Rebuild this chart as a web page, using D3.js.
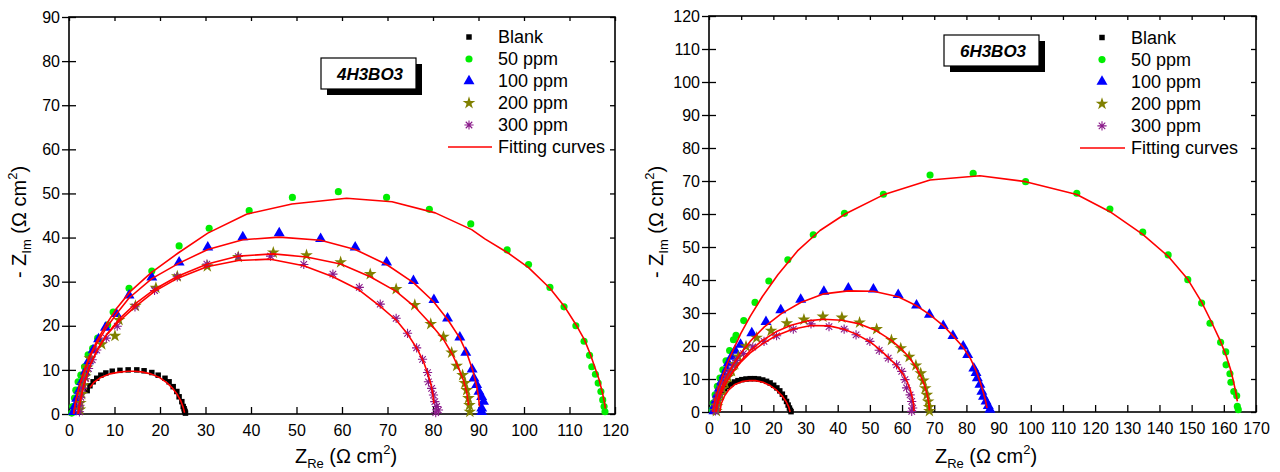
<!DOCTYPE html>
<html>
<head>
<meta charset="utf-8">
<script src="https://cdn.jsdelivr.net/npm/d3@7"></script>
<style>
  body { margin: 0; background: #fff; }
  svg text { font-family: "Liberation Sans", Arial, Helvetica, sans-serif; fill: #000; }
</style>
</head>
<body>
<svg id="chart" width="1280" height="472"></svg>
<script>
// ---------- labels ----------
const seriesNames = ["Blank", "50 ppm", "100 ppm", "200 ppm", "300 ppm"];
const fitName = "Fitting curves";
const panelTitles = ["4H3BO3", "6H3BO3"];

// ---------- tick values ----------
const xTicks4 = [0, 10, 20, 30, 40, 50, 60, 70, 80, 90, 100, 110, 120];
const yTicks4 = [0, 10, 20, 30, 40, 50, 60, 70, 80, 90];
const xTicks6 = [0, 10, 20, 30, 40, 50, 60, 70, 80, 90, 100, 110, 120, 130, 140, 150, 160, 170];
const yTicks6 = [0, 10, 20, 30, 40, 50, 60, 70, 80, 90, 100, 110, 120];

// ---------- 4H3BO3 : measured impedance [Z_Re, -Z_Im] ----------
const blank4 = [[4.0,5.3],[4.6,6.4],[5.3,7.3],[6.1,8.1],[7.0,8.8],[8.1,9.3],[9.5,9.7],[11.2,9.9],[13.0,10.0],[14.9,10.0],
  [16.5,9.8],[18.2,9.4],[19.6,8.8],[21.1,8.1],[22.0,7.3],[22.9,6.2],[23.7,5.1],[24.2,3.9],[24.8,2.8],[25.1,1.7],
  [25.3,1.2],[25.4,0.8],[25.5,0.5],[25.6,0.2]];
const ppm50_4 = [[0.6,0.2],[0.8,1.7],[1.2,3.6],[1.5,5.4],[2.0,7.3],[2.6,8.8],[3.4,10.7],[4.2,13.4],[5.2,14.9],[6.3,17.2],
  [8.5,20.2],[9.7,23.1],[13.2,28.5],[18.2,32.4],[24.2,38.1],[30.8,42.1],[39.6,46.1],[49.1,49.1],[59.2,50.4],[69.8,49.1],
  [79.2,46.4],[88.3,43.1],[96.3,37.2],[101.0,33.9],[105.7,28.7],[108.8,24.3],[111.4,20.0],[113.2,16.5],[114.4,13.3],
  [114.9,10.7],[115.7,9.0],[116.3,7.0],[116.9,5.1],[117.3,3.2],[117.6,1.7],[117.8,0.5]];
const ppm100_4 = [[1.0,0.5],[1.3,1.8],[1.7,3.5],[2.2,5.3],[2.8,7.3],[3.5,9.5],[4.3,12.0],[5.3,14.5],[6.5,17.0],[8.0,19.6],
  [10.4,22.7],[13.2,26.9],[18.2,31.0],[24.2,34.4],[30.5,37.8],[38.2,40.1],[46.2,41.0],[55.3,39.7],[62.9,37.8],[69.8,34.4],
  [75.7,30.2],[80.2,25.9],[83.2,21.7],[85.9,17.4],[87.2,13.9],[88.6,10.1],[89.0,8.1],[89.6,6.6],[90.1,5.1],[90.7,3.9],
  [91.1,2.8],[90.7,1.3],[90.7,0.5]];
const ppm200_4 = [[2.4,1.0],[2.5,2.5],[2.8,4.5],[3.2,6.5],[3.6,8.5],[4.0,10.5],[4.6,12.6],[7.2,15.8],[10.1,17.7],[11.0,21.3],
  [14.6,24.5],[19.1,28.6],[23.8,31.2],[30.4,33.5],[37.2,35.6],[44.9,36.6],[52.2,36.0],[59.7,34.4],[66.2,31.7],[71.9,28.3],
  [76.0,24.7],[79.5,20.4],[82.3,17.5],[84.1,13.9],[85.2,10.9],[86.5,8.8],[87.0,7.0],[87.4,5.4],[87.8,3.6],[88.0,2.0],[88.1,0.5]];
const ppm300_4 = [[2.3,0.5],[2.4,2.0],[2.6,3.8],[3.0,5.8],[3.6,8.0],[4.3,10.3],[5.1,12.3],[6.1,14.5],[8.2,17.2],[10.6,19.9],
  [14.5,24.3],[18.8,28.0],[23.8,31.1],[30.3,34.0],[37.2,35.7],[44.3,35.8],[51.6,33.9],[58.0,31.7],[63.8,28.7],[68.4,24.9],
  [71.9,21.7],[74.4,18.3],[76.4,15.0],[77.7,12.4],[78.8,9.4],[79.0,7.3],[79.7,5.8],[80.1,4.3],[80.4,2.8],[80.8,1.7],
  [81.2,0.9],[80.6,0.3]];

// ---------- 4H3BO3 : equivalent-circuit fits ----------
const fitBlank4 = [[4.6,6.0],[5.5,7.2],[7,8.3],[9,9.1],[11,9.5],[13,9.7],[14.5,9.7],[16,9.55],[18,9.1],[20,8.2],
  [21.5,7.1],[22.8,5.8],[23.8,4.4],[24.6,2.9],[25.1,1.5],[25.4,0.3]];
const fit50_4 = [[1.0,0],[1.5,3],[2.2,6],[3.2,9.5],[4.5,13],[6,16.3],[8,20],[10.5,24],[13.5,27.8],[18,32],[24,36.5],
  [30.5,41],[39,45.3],[49,47.6],[61,48.9],[71,48.1],[80.5,45.6],[88.5,41.8],[91.4,39.7],[96.5,36.5],[101,33.2],
  [105.7,28.5],[108.8,24.5],[111.4,20.3],[113.3,16.8],[114.6,13.5],[115.6,10.5],[116.5,7.8],[117.2,5],[117.7,2.5],[117.9,1.2]];
const fit100_4 = [[1.0,0],[1.5,3],[2.2,6],[3.2,9.3],[4.5,12.7],[6,15.8],[8,19.2],[10.5,22.8],[13.2,26.3],[18.2,30.7],
  [24.2,34.2],[30.5,37.3],[38.2,39.5],[46.2,40.1],[55.3,39.4],[62.9,37.3],[69.8,33.9],[75.7,29.8],[80.1,25.5],[83.3,21.3],
  [85.9,17.2],[87.5,13.6],[88.7,10],[89.5,6.8],[90,4],[90.2,1.7]];
const fit200_4 = [[2.0,0],[2.3,2],[2.8,4.5],[3.5,7.5],[4.6,11],[6.2,14.5],[8.3,18],[11,21.5],[14.6,25],[19,28.4],[24,31.3],
  [30.4,34],[37.3,35.8],[44.9,36.3],[52.2,35.6],[59.7,34.0],[66.2,31.1],[71.9,27.8],[76,24.3],[79.5,20.4],[82.3,16.9],
  [84.2,13.6],[85.6,10.5],[86.7,7.6],[87.4,5],[87.8,2]];
const fit300_4 = [[2.0,0],[2.3,2],[2.8,4.5],[3.5,7.5],[4.6,11],[6.2,14.5],[8.3,18],[10.8,20.8],[14.5,24.3],[18.8,27.8],
  [23.9,30.8],[30.3,33.4],[37.2,34.8],[44.3,35.1],[51.6,33.6],[58,31.1],[63.8,28.1],[68.4,24.4],[72,21.2],[74.5,18],
  [76.5,14.8],[77.9,11.9],[78.9,9],[79.6,6.5],[80,4.2],[80.2,2.4]];

// ---------- 6H3BO3 : measured impedance [Z_Re, -Z_Im] ----------
const blank6 = [[1.9,0.3],[2.0,1.5],[2.3,2.8],[2.8,4.0],[3.4,5.1],[4.1,6.1],[4.9,7.0],[5.8,7.8],[6.8,8.5],[7.9,9.1],
  [9.0,9.5],[10.2,9.8],[11.5,10.0],[12.8,10.1],[14.1,10.1],[15.4,10.0],[16.7,9.7],[17.9,9.3],[19.0,8.8],[20.1,8.1],
  [21.1,7.3],[22.0,6.4],[22.8,5.4],[23.5,4.3],[24.1,3.2],[24.6,2.1],[25.0,1.2],[25.3,0.5],[25.5,0.1]];
const ppm50_6 = [[1.0,0.7],[1.3,2.7],[1.9,5.2],[2.6,7.8],[3.4,10.3],[4.3,12.8],[5.3,15.5],[6.4,18.6],[7.6,21.9],[8.4,23.2],
  [10.8,27.7],[14.3,33.2],[18.6,39.7],[24.5,46.1],[32.4,53.7],[42.1,60.2],[54.2,66.0],[68.7,71.8],[82.1,72.3],[98.4,69.8],
  [114.3,66.3],[124.6,61.5],[134.8,54.5],[142.7,47.6],[148.8,40.1],[153.1,33.0],[155.7,26.9],[159.0,21.1],[160.6,18.2],
  [160.7,14.3],[161.9,11.6],[162.2,9.0],[163.1,6.2],[164.0,4.9],[164.2,1.7],[164.5,0.7]];
const ppm100_6 = [[1.5,0.3],[1.7,1.8],[2.1,3.5],[2.6,5.3],[3.2,7.2],[3.9,9.2],[4.7,11.2],[5.5,13.0],[6.0,14.8],[7.0,16.8],
  [8.1,18.6],[9.8,20.4],[13.3,23.9],[17.7,27.3],[22.3,30.9],[28.5,34.1],[35.7,36.5],[43.3,37.5],[51.1,37.2],[58.8,35.5],
  [64.5,32.3],[68.5,29.5],[72.8,26.1],[75.8,23.1],[79.0,19.9],[80.4,17.3],[82.3,13.2],[83.0,11.9],[83.4,10.3],[84.2,8.3],
  [84.8,6.2],[85.3,4.7],[86.1,3.2],[86.8,1.9],[87.3,0.7]];
const ppm200_6 = [[2.3,0.3],[2.5,1.8],[2.9,3.5],[3.5,5.2],[4.2,7.0],[5.0,8.8],[5.9,10.6],[7.0,12.4],[8.0,14.5],[9.1,16.8],
  [11.5,19.9],[14.8,22.5],[19.3,24.6],[24.2,26.9],[29.5,28.0],[35.4,28.9],[41.3,28.6],[46.8,27.1],[52.1,25.1],[56.7,21.8],
  [59.6,19.3],[62.2,16.7],[64.3,14.1],[65.8,11.7],[66.6,9.5],[67.2,7.2],[67.7,5.2],[68.1,3.2],[68.4,1.5],[68.5,0.3]];
const ppm300_6 = [[2.0,0.3],[2.1,1.8],[2.4,3.5],[2.9,5.2],[3.5,7.0],[4.2,8.8],[5.1,10.6],[6.2,12.3],[7.4,14.0],[8.6,15.6],
  [10.7,17.7],[13.6,19.7],[17.1,21.4],[21.0,23.1],[26.2,25.1],[31.7,26.7],[37.3,25.9],[42.0,25.1],[45.7,23.4],[50.0,21.4],
  [52.9,18.7],[55.7,16.3],[58.3,14.3],[59.9,12.3],[60.9,9.8],[61.4,7.3],[62.5,5.2],[63.0,3.2],[63.3,1.2],[63.0,0.2]];

// ---------- 6H3BO3 : equivalent-circuit fits ----------
const fitBlank6 = [[3.4,0],[3.8,2.5],[4.8,4.8],[6.2,6.8],[8,8.3],[10.2,9.2],[12.5,9.55],[14.5,9.5],[16.8,9.0],[19,8.0],
  [21,6.6],[22.7,4.9],[24,3.1],[24.8,1.5],[25.2,0]];
const fit50_6 = [[1.2,0],[1.6,2.5],[2.3,5.2],[3.2,8],[4.4,11.4],[5.8,15],[7.6,19],[9.9,23.8],[12.8,29],[16.6,35],[21.4,41.6],
  [27.5,48.8],[34.5,55],[42.3,60.0],[54.2,65.8],[68.7,70.3],[84.2,71.6],[98.4,69.8],[114.3,65.9],[124.6,60.7],[134.8,53.8],
  [142.7,47.2],[148.8,40.2],[153.1,33.3],[156.2,27.2],[158.8,21.8],[160.6,17.4],[162,13.2],[163,9.3],[163.7,6],[164.2,3.2]];
const fit100_6 = [[2.0,0],[2.4,2.5],[3.1,5],[4.1,7.8],[5.5,10.8],[7.2,13.9],[9.6,17.5],[12.8,21.4],[17.2,25.8],[22.5,29.8],
  [28.5,33.2],[35.7,35.8],[43.3,36.7],[51.1,36.6],[58.8,34.9],[64.5,32.2],[68.5,29.6],[72.8,26.2],[75.9,23.0],[79,19.6],
  [81.3,16.1],[83,12.5],[84.3,9],[85.3,5.8],[86,3.2],[86.4,1.2]];
const fit200_6 = [[2.2,0],[2.6,2.3],[3.3,4.6],[4.3,7],[5.7,9.6],[7.5,12.4],[9.8,15.4],[12.8,18.6],[16.5,21.6],[20.8,24.3],
  [25.5,26.3],[30.5,27.6],[35.5,28.1],[41.3,27.8],[46.8,26.7],[52.1,24.6],[56.7,21.7],[59.6,19.3],[62.2,16.6],[64.2,13.8],
  [65.8,10.9],[67,8],[67.8,5.3],[68.3,2.8],[68.5,0.5]];
const fit300_6 = [[2.2,0],[2.6,2.3],[3.3,4.6],[4.3,7],[5.7,9.5],[7.5,12.2],[9.8,15],[12.8,17.9],[16.5,20.6],[20.8,23.1],
  [26,25.1],[31.7,26.2],[37.3,26.1],[42,25.1],[45.7,23.6],[50,21.3],[53,19.0],[55.8,16.5],[58.3,14],[60.2,11.6],
  [61.6,9.1],[62.6,6.6],[63.2,4.3],[63.6,2.2],[63.7,0.3]];

// ---------- marker styles (one per series) ----------
const asteriskPath = r => {
  const d = r * 0.7071;
  return `M0,${-r}L0,${r}M${-r},0L${r},0M${-d},${-d}L${d},${d}M${-d},${d}L${d},${-d}`;
};
const markerStyles = [
  { path: d3.symbol(d3.symbolSquare, 30)(), fill: "#000000", stroke: "none" },
  { path: d3.symbol(d3.symbolCircle, 40)(), fill: "#00ee00", stroke: "none" },
  { path: d3.symbol(d3.symbolTriangle, 52)(), fill: "#0000ff", stroke: "none" },
  { path: d3.symbol(d3.symbolStar, 50)(), fill: "#808000", stroke: "none" },
  { path: asteriskPath(4.6), fill: "none", stroke: "#8a1a8a" }
];

const panels = [
  {
    title: panelTitles[0], xTicks: xTicks4, yTicks: yTicks4,
    data: [blank4, ppm50_4, ppm100_4, ppm200_4, ppm300_4],
    fits: [fitBlank4, fit50_4, fit100_4, fit200_4, fit300_4],
    left: 69, right: 615, top: 17, bottom: 414,
    xTitleX: 346, yTitleX: 26,
    box: { x: 321, y: 58, w: 95, h: 31 },
    legend: { sx: 469, tx: 498, y0: 37, dy: 22, lx1: 448, lx2: 492 }
  },
  {
    title: panelTitles[1], xTicks: xTicks6, yTicks: yTicks6,
    data: [blank6, ppm50_6, ppm100_6, ppm200_6, ppm300_6],
    fits: [fitBlank6, fit50_6, fit100_6, fit200_6, fit300_6],
    left: 709, right: 1256, top: 16, bottom: 412,
    xTitleX: 986, yTitleX: 663,
    box: { x: 944, y: 35, w: 95, h: 31 },
    legend: { sx: 1102, tx: 1131, y0: 37.5, dy: 22.1, lx1: 1080, lx2: 1125 }
  }
];

const svg = d3.select("#chart");

function axisTitle(g, x, y, rotate, main, sub) {
  const t = g.append("text")
    .attr("transform", `translate(${x},${y})` + (rotate ? " rotate(-90)" : ""))
    .attr("text-anchor", "middle")
    .attr("font-size", 20);
  t.append("tspan").text(main);
  t.append("tspan").attr("font-size", 13).attr("dy", 5).text(sub);
  t.append("tspan").attr("dy", -5).text(" (\u03A9 cm");
  t.append("tspan").attr("font-size", 13).attr("dy", -9).text("2");
  t.append("tspan").attr("dy", 9).text(")");
}

panels.forEach(p => {
  const g = svg.append("g");
  const xMax = p.xTicks[p.xTicks.length - 1];
  const yMax = p.yTicks[p.yTicks.length - 1];
  const x = d3.scaleLinear().domain([0, xMax]).range([p.left, p.right]);
  const y = d3.scaleLinear().domain([0, yMax]).range([p.bottom, p.top]);

  // bottom axis: inward ticks, labels below
  const gx = g.append("g").attr("transform", `translate(0,${p.bottom})`)
    .call(d3.axisBottom(x).tickValues(p.xTicks).tickFormat(d3.format("d"))
      .tickSizeInner(-7).tickSizeOuter(0).tickPadding(11));
  // left axis: ticks crossing the axis line
  const gy = g.append("g").attr("transform", `translate(${p.left},0)`)
    .call(d3.axisLeft(y).tickValues(p.yTicks).tickFormat(d3.format("d"))
      .tickSizeInner(7).tickSizeOuter(0).tickPadding(2));
  const gyIn = g.append("g").attr("transform", `translate(${p.left},0)`)
    .call(d3.axisLeft(y).tickValues(p.yTicks).tickFormat("").tickSizeInner(-7).tickSizeOuter(0));
  // mirrored top / right ticks
  const gt = g.append("g").attr("transform", `translate(0,${p.top})`)
    .call(d3.axisTop(x).tickValues(p.xTicks).tickFormat("").tickSizeInner(-4).tickSizeOuter(0));
  const gr = g.append("g").attr("transform", `translate(${p.right},0)`)
    .call(d3.axisRight(y).tickValues(p.yTicks).tickFormat("").tickSizeInner(-5).tickSizeOuter(0));

  [gx, gy, gyIn, gt, gr].forEach(a => {
    a.select(".domain").remove();
    a.selectAll(".tick line").attr("stroke", "#000").attr("stroke-width", 1.3);
    a.selectAll(".tick text")
      .attr("font-family", "'Liberation Sans', Arial, sans-serif")
      .attr("font-size", 16).attr("fill", "#000");
  });

  // frame
  g.append("rect")
    .attr("x", p.left).attr("y", p.top)
    .attr("width", p.right - p.left).attr("height", p.bottom - p.top)
    .attr("fill", "none").attr("stroke", "#000").attr("stroke-width", 1.6);

  // measured points
  p.data.forEach((series, i) => {
    const st = markerStyles[i];
    g.append("g").selectAll("path").data(series).join("path")
      .attr("transform", d => `translate(${x(d[0])},${y(d[1])})`)
      .attr("d", st.path)
      .attr("fill", st.fill)
      .attr("stroke", st.stroke)
      .attr("stroke-width", st.stroke === "none" ? null : 1.1);
  });

  // fitted curves
  const line = d3.line().x(d => x(d[0])).y(d => y(d[1]));
  p.fits.forEach(f => {
    g.append("path").attr("d", line(f))
      .attr("fill", "none").attr("stroke", "#ff0000").attr("stroke-width", 1.6)
      .attr("stroke-linejoin", "round");
  });

  // axis titles
  axisTitle(g, p.xTitleX, 463, false, "Z", "Re");
  axisTitle(g, p.yTitleX, 222, true, "- Z", "Im");

  // sample label box with drop shadow
  const b = p.box;
  g.append("rect").attr("x", b.x + 6).attr("y", b.y + 6).attr("width", b.w).attr("height", b.h).attr("fill", "#000");
  g.append("rect").attr("x", b.x).attr("y", b.y).attr("width", b.w).attr("height", b.h)
    .attr("fill", "#fff").attr("stroke", "#000").attr("stroke-width", 1.2);
  g.append("text").attr("x", b.x + b.w / 2 + 1.5).attr("y", b.y + b.h / 2 + 6)
    .attr("text-anchor", "middle").attr("font-size", 17)
    .attr("font-weight", "bold").attr("font-style", "italic")
    .text(p.title);

  // legend
  const L = p.legend;
  seriesNames.forEach((name, i) => {
    const st = markerStyles[i];
    const yy = L.y0 + i * L.dy;
    g.append("path").attr("transform", `translate(${L.sx},${yy})`)
      .attr("d", st.path).attr("fill", st.fill).attr("stroke", st.stroke)
      .attr("stroke-width", st.stroke === "none" ? null : 1.1);
    g.append("text").attr("x", L.tx).attr("y", yy).attr("dy", "0.36em")
      .attr("font-size", 18).text(name);
  });
  const yl = L.y0 + 5 * L.dy;
  g.append("line").attr("x1", L.lx1).attr("x2", L.lx2).attr("y1", yl).attr("y2", yl)
    .attr("stroke", "#ff0000").attr("stroke-width", 1.6);
  g.append("text").attr("x", L.tx).attr("y", yl).attr("dy", "0.36em")
    .attr("font-size", 18).text(fitName);
});
</script>
</body>
</html>
